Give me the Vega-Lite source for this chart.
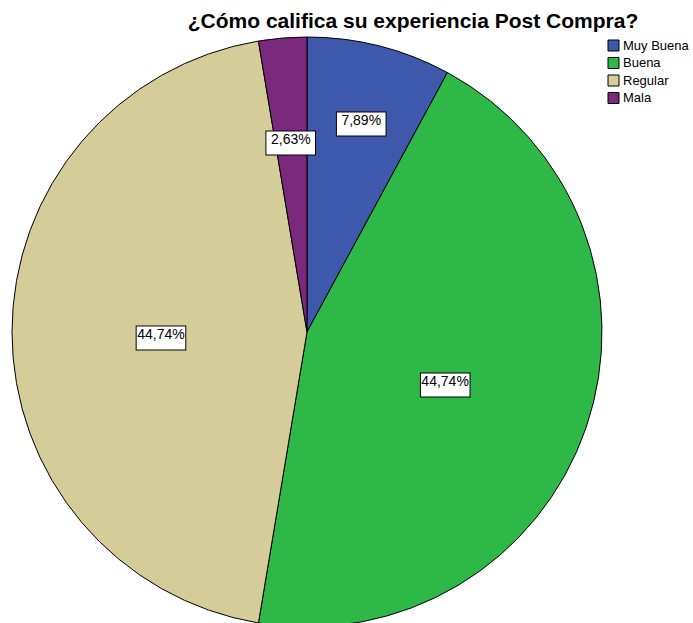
{
  "$schema": "https://vega.github.io/schema/vega-lite/v6.json",
  "width": 614,
  "height": 588,
  "autosize": {"type": "none"},
  "padding": {"left": 0, "top": 38, "right": 79, "bottom": 0},
  "background": "white",
  "title": {
    "text": "¿Cómo califica su experiencia Post Compra?",
    "font": "Liberation Sans",
    "fontSize": 21,
    "fontWeight": "bold",
    "anchor": "middle",
    "dx": 106,
    "offset": 3,
    "color": "#000000"
  },
  "data": {
    "values": [
      {"categoria": "Muy Buena", "orden": 1, "frecuencia": 3, "porcentaje": "7,89%"},
      {"categoria": "Buena", "orden": 2, "frecuencia": 17, "porcentaje": "44,74%"},
      {"categoria": "Regular", "orden": 3, "frecuencia": 17, "porcentaje": "44,74%"},
      {"categoria": "Mala", "orden": 4, "frecuencia": 1, "porcentaje": "2,63%"}
    ]
  },
  "encoding": {
    "theta": {"field": "frecuencia", "type": "quantitative", "stack": true},
    "order": {"field": "orden", "type": "quantitative"}
  },
  "layer": [
    {
      "mark": {"type": "arc", "outerRadius": 295, "stroke": "#000000", "strokeWidth": 1},
      "encoding": {
        "color": {
          "field": "categoria",
          "type": "nominal",
          "scale": {
            "domain": ["Muy Buena", "Buena", "Regular", "Mala"],
            "range": ["#3E58AC", "#2EB848", "#D4CC99", "#7B297D"]
          },
          "legend": {
            "title": null,
            "orient": "right",
            "offset": -8,
            "padding": 1,
            "symbolType": "square",
            "symbolSize": 121,
            "symbolStrokeColor": "#000000",
            "symbolStrokeWidth": 1,
            "labelFont": "Liberation Sans",
            "labelFontSize": 13,
            "labelColor": "#000000",
            "labelOffset": 3,
            "rowPadding": 2.5
          }
        }
      }
    },
    {
      "mark": {"type": "text", "text": "▬", "font": "DejaVu Sans", "fontSize": 65, "fill": "#ffffff", "stroke": "#000000", "strokeWidth": 1, "baseline": "middle", "align": "center", "dy": 3},
      "encoding": {
        "radius": {"field": "frecuencia", "type": "quantitative", "scale": {"type": "linear", "domain": [1, 3, 17], "range": [196, 221, 146], "zero": false}}
      }
    },
    {
      "mark": {"type": "text", "font": "Liberation Sans", "fontSize": 14, "baseline": "middle", "align": "center", "color": "#000000", "dy": 3},
      "encoding": {
        "text": {"field": "porcentaje", "type": "nominal"},
        "radius": {"field": "frecuencia", "type": "quantitative", "scale": {"type": "linear", "domain": [1, 3, 17], "range": [196, 221, 146], "zero": false}}
      }
    }
  ]
}
